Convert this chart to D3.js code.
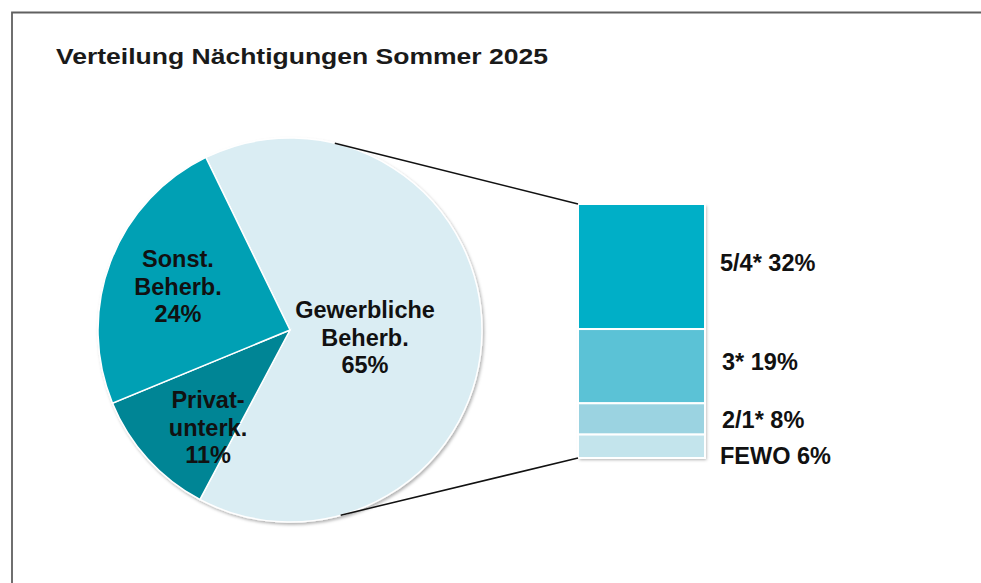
<!DOCTYPE html>
<html><head><meta charset="utf-8">
<script src="https://cdn.jsdelivr.net/npm/d3@7"></script>
<style>html,body{margin:0;padding:0;background:#fff;} svg{display:block;}</style>
</head><body>
<svg id="c" width="981" height="583"></svg>
<script>
const title = "Verteilung Nächtigungen Sommer 2025";
const pieCategories = ["Gewerbliche Beherb.", "Privat-unterk.", "Sonst. Beherb."];
const pieLabelLines = [["Gewerbliche","Beherb.","65%"],["Privat-","unterk.","11%"],["Sonst.","Beherb.","24%"]];
const pieValues = [65, 11, 24];
const pieColors = ["#daedf3", "#008595", "#00a0b4"];
const barCategories = ["5/4*", "3*", "2/1*", "FEWO"];
const barValues = [32, 19, 8, 6];
const barColors = ["#00afc7", "#5bc2d6", "#9bd3e1", "#c3e4ec"];

const svg = d3.select("#c");
const font = "'Liberation Sans', Arial, sans-serif";

const defs = svg.append("defs");
const f = defs.append("filter").attr("id","sh").attr("x","-10%").attr("y","-10%").attr("width","120%").attr("height","120%");
f.append("feDropShadow").attr("dx",1.5).attr("dy",2).attr("stdDeviation",1.5).attr("flood-color","#000").attr("flood-opacity",0.3);

// frame
svg.append("path").attr("d","M12,590 L12,12.5 L990,12.5").attr("fill","none").attr("stroke","#606060").attr("stroke-width",1.8);

svg.append("text").attr("x",56).attr("y",64).attr("font-family",font).attr("font-weight","bold")
  .attr("font-size",22).attr("fill","#1a1a1a")
  .attr("textLength",492).attr("lengthAdjust","spacingAndGlyphs").text(title);

// pie
const cx = 290, cy = 330, r = 192;
const start = -26 * Math.PI/180;
const pie = d3.pie().sort(null).startAngle(start).endAngle(start + 2*Math.PI);
const arcs = pie(pieValues);
const arc = d3.arc().innerRadius(0).outerRadius(r);
const g = svg.append("g").attr("transform",`translate(${cx},${cy})`);
g.append("g").attr("filter","url(#sh)").selectAll("path").data(arcs).join("path")
  .attr("d",arc).attr("fill",(d,i)=>pieColors[i]).attr("stroke","#fff").attr("stroke-width",1.5);

const labelPos = [[75,-12],[-82,78],[-112,-63]];
arcs.forEach((a,i)=>{
  const t = g.append("text").attr("font-family",font).attr("font-weight","bold").attr("font-size",23.5)
    .attr("fill","#111").attr("text-anchor","middle");
  pieLabelLines[i].forEach((ln,j)=>{
    t.append("tspan").attr("x",labelPos[i][0]).attr("y",labelPos[i][1] + j*27.5).text(ln);
  });
});

// bar
const bx = 578, bw = 127;
const total = d3.sum(barValues);
const y = d3.scaleLinear().domain([0,total]).range([204,458]);
let acc = 0;
const stacks = barValues.map(v=>{const s={y0:acc,y1:acc+v}; acc+=v; return s;});
const bg = svg.append("g");
bg.append("rect").attr("x",bx).attr("y",y(0)).attr("width",bw).attr("height",y(total)-y(0))
  .attr("fill","#fff").attr("filter","url(#sh)");
bg.selectAll("rect.seg").data(stacks).join("rect").attr("class","seg")
  .attr("x",bx).attr("y",d=>y(d.y0)).attr("width",bw).attr("height",d=>y(d.y1)-y(d.y0))
  .attr("fill",(d,i)=>barColors[i]).attr("stroke","#fff").attr("stroke-width",2);

const barLabelY = [271, 370, 428, 464];
const barLabelX = [720, 722, 722, 720];
barCategories.forEach((c,i)=>{
  svg.append("text").attr("x",barLabelX[i]).attr("y",barLabelY[i]).attr("font-family",font)
    .attr("font-weight","bold").attr("font-size",23.5).attr("fill","#111")
    .text(c + " " + barValues[i] + "%");
});

// connector lines from pie edge to bar
const topPt = [cx + r*Math.sin(13.5*Math.PI/180), cy - r*Math.cos(13.5*Math.PI/180)];
const botPt = [cx + r*Math.sin(164.7*Math.PI/180), cy - r*Math.cos(164.7*Math.PI/180)];
svg.append("line").attr("x1",topPt[0]).attr("y1",topPt[1]).attr("x2",bx).attr("y2",y(0))
  .attr("stroke","#111").attr("stroke-width",1.5);
svg.append("line").attr("x1",botPt[0]).attr("y1",botPt[1]).attr("x2",bx).attr("y2",y(total))
  .attr("stroke","#111").attr("stroke-width",1.5);
</script>
</body></html>
